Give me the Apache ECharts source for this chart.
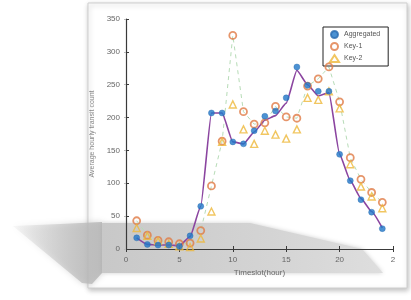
<!DOCTYPE html>
<html>
<head>
<meta charset="utf-8">
<script src="https://cdn.jsdelivr.net/npm/echarts@6/dist/echarts.min.js"></script>
<style>
html,body{margin:0;padding:0;background:#fff;}
#c{width:411px;height:300px;}
</style>
</head>
<body>
<div id="c"></div>
<script>
// ---- data ----
var hours = [1,2,3,4,5,6,7,8,9,10,11,12,13,14,15,16,17,18,19,20,21,22,23,24];
var aggregated = [17,7,6,6,4,20,65,207,207,163,160,180,202,210,230,277,249,240,240,144,104,75,56,31];
var aggregatedFit = [17,7,6,6,5,19,65,207,207,163,160,178,196,203,222,272,250,233,238,144,104,77,57,32];
var key1 = [43,21,13,11,8,9,28,96,164,325,209,190,192,217,201,199,248,259,277,224,139,106,86,71];
var key2 = [32,20,12,8,4,3,16,57,163,220,182,160,180,174,168,182,230,227,240,214,129,95,80,62];
var xTickLabels = ['0','5','10','15','20','2'];
var yTickLabels = ['0','50','100','150','200','250','300','350'];
var seriesNames = ['Aggregated','Key-1','Key-2'];
var xAxisTitle = 'Timeslot(hour)';
var yAxisTitle = 'Average hourly transit count';

function pairs(v){ return hours.map(function(h,i){ return [h, v[i]]; }); }

var chart = echarts.init(document.getElementById('c'), null, {renderer:'canvas'});
var font = 'Liberation Sans, Arial, sans-serif';
var axisCol = '#3a3a3a';
var labCol = '#666';

chart.setOption({
  animation:false,
  backgroundColor:'#fff',
  graphic:[
    {type:'rect', z:-30, shape:{x:88,y:3,width:319,height:285},
     style:{fill:'#fff', stroke:'#cfcfcf', lineWidth:1, shadowBlur:5, shadowColor:'rgba(0,0,0,0.25)', shadowOffsetX:1, shadowOffsetY:2}},
    {type:'polygon', z:-20, shape:{points:[[13,226],[60,224],[102,222],[102,273],[92,284],[82,283]]},
     style:{fill:new echarts.graphic.LinearGradient(0,0,1,0,[{offset:0,color:'rgba(190,190,190,0.1)'},{offset:1,color:'rgba(185,185,185,0.9)'}]), shadowBlur:6, shadowColor:'rgba(150,150,150,0.5)'}},
    {type:'polygon', z:-20, shape:{points:[[102,223],[250,223],[362,249],[383,273],[102,273]]},
     style:{fill:new echarts.graphic.LinearGradient(0,0,1,0,[{offset:0,color:'#c8c8c8'},{offset:0.6,color:'#d4d4d4'},{offset:1,color:'#dedede'}]), shadowBlur:4, shadowColor:'rgba(160,160,160,0.5)'}}
  ],
  grid:{left:126, right:18, top:19, bottom:51, containLabel:false},
  legend:{
    orient:'vertical', left:323, top:27,
    data:seriesNames,
    backgroundColor:'#fff', borderColor:'#222', borderWidth:1,
    padding:[3,8,3,6], itemGap:3, itemWidth:9, itemHeight:7,
    textStyle:{fontSize:7, color:'#555', fontFamily:font}
  },
  xAxis:[
    {type:'value', min:0, max:25, interval:5, position:'bottom',
     name:xAxisTitle, nameLocation:'middle', nameGap:19,
     nameTextStyle:{fontSize:8, color:labCol, fontFamily:font},
     axisLine:{show:true, lineStyle:{color:axisCol, width:1.2}},
     axisTick:{show:true, inside:true, length:3, lineStyle:{color:axisCol}},
     axisLabel:{fontSize:8, color:labCol, fontFamily:font, margin:7,
       formatter:function(v){ return xTickLabels[Math.round(v/5)]; }},
     splitLine:{show:false}},
    {type:'value', min:0, max:25, interval:5, position:'top',
     axisLine:{show:true, lineStyle:{color:axisCol, width:1.2}},
     axisTick:{show:true, inside:true, length:3, lineStyle:{color:axisCol}},
     axisLabel:{show:false}, splitLine:{show:false}}
  ],
  yAxis:[
    {type:'value', min:0, max:350, interval:50, position:'left',
     name:yAxisTitle, nameLocation:'middle', nameGap:18, nameRotate:90,
     nameTextStyle:{fontSize:7, color:'#888', fontFamily:font},
     axisLine:{show:true, lineStyle:{color:axisCol, width:1.2}},
     axisTick:{show:true, inside:true, length:3, lineStyle:{color:axisCol}},
     axisLabel:{fontSize:8, color:labCol, fontFamily:font, margin:6,
       formatter:function(v){ return yTickLabels[Math.round(v/50)]; }},
     splitLine:{show:false}},
    {type:'value', min:0, max:350, interval:50, position:'right',
     axisLine:{show:false},
     axisTick:{show:true, inside:true, length:2, lineStyle:{color:'#bbb'}},
     axisLabel:{show:false}, splitLine:{show:false}}
  ],
  series:[
    {type:'line', data:pairs(key1), symbol:'none', z:2, silent:true,
     lineStyle:{color:'#b7dcb7', width:1, type:[4,4]}},
    {type:'line', data:pairs(aggregatedFit), symbol:'none', smooth:0.15, smoothMonotone:'x', z:3, silent:true,
     lineStyle:{color:'#8b45a0', width:1.6}},
    {name:seriesNames[1], type:'scatter', data:pairs(key1), symbol:'circle', symbolSize:7, z:4,
     itemStyle:{color:'rgba(255,255,255,0)', borderColor:'#e07a45', borderWidth:1.8}},
    {name:seriesNames[2], type:'scatter', data:pairs(key2), symbol:'triangle', symbolSize:7, z:4,
     itemStyle:{color:'rgba(255,255,255,0)', borderColor:'#edb83a', borderWidth:1.4}},
    {name:seriesNames[0], type:'scatter', data:pairs(aggregated), symbol:'circle', symbolSize:6, z:5,
     itemStyle:{color:'#1f77c8', borderColor:'#2a6bb0', borderWidth:0.5}}
  ]
});
</script>
</body>
</html>
